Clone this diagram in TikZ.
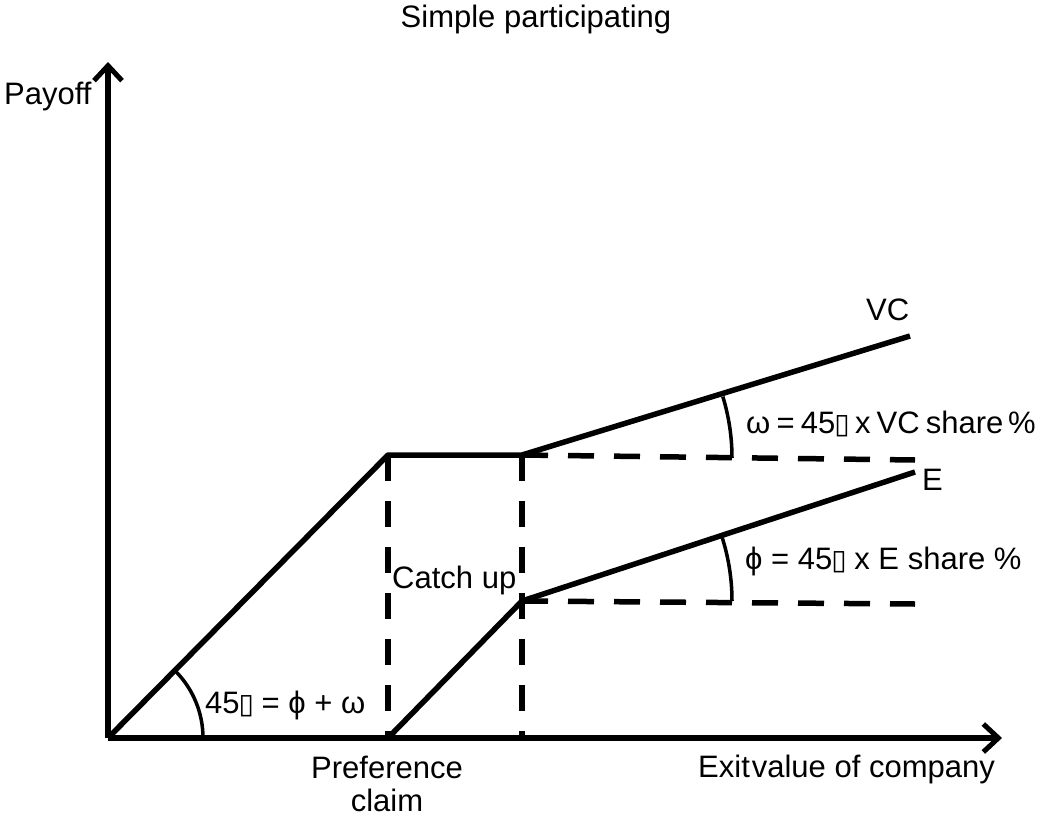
\documentclass[tikz,border=0pt]{standalone}
\usepackage{fontspec}
\setmainfont{Liberation Sans}
\newfontfamily\dvfont{DejaVu Sans}
\usetikzlibrary{arrows.meta}
\newcommand{\degbox}{{\dvfont\fontsize{28pt}{28pt}\selectfont\kern-1pt▯\kern-1pt}}
\begin{document}
\begin{tikzpicture}[x=1pt,y=-1pt,
  every node/.style={font=\fontsize{31pt}{33pt}\selectfont, inner sep=0pt},
  axis/.style={line width=5.5pt, -{Straight Barb[length=15pt,width=28pt,line width=5pt]}},
  curve/.style={line width=5.5pt},
  guide/.style={line width=5.5pt, dash pattern=on 26pt off 20pt},
  anglearc/.style={line width=3.5pt}]
\useasboundingbox (0,0) rectangle (1049,816);
\fill[white] (0,0) rectangle (1049,816);
% coordinates
\coordinate (O) at (108,738);
\coordinate (Ytip) at (108,62);
\coordinate (Xtip) at (1002,738);
\coordinate (K) at (388,455);
\coordinate (C) at (522,455);
\coordinate (VCend) at (910,336);
\coordinate (VCdash) at (915,460);
\coordinate (P) at (388,738);
\coordinate (Q) at (522,738);
\coordinate (D) at (522,601);
\coordinate (Eend) at (915,472);
\coordinate (Edash) at (915,604);
% axes
\draw[axis] (O) -- (Xtip);
\draw[axis] (O) -- (Ytip);
% guides
\draw[guide] (K) -- (P);
\draw[guide] (C) -- (Q);
\draw[guide] (C) -- (VCdash);
\draw[guide] (D) -- (Edash);
% VC payoff
\draw[curve, line join=round] (O) -- (K) -- (C) -- (VCend);
% E payoff
\draw[curve, line join=round] (P) -- (D) -- (Eend);
% angle arcs
\draw[anglearc] (203,738) arc[start angle=0, end angle=-45, radius=95];
\draw[anglearc] (732,458) arc[start angle=0, end angle=-17, radius=210];
\draw[anglearc] (732,601) arc[start angle=0, end angle=-18, radius=210];
% labels
\node (title) at (536,19) {Simple participating};
\node[anchor=west] (payoff) at (4,96) {Payoff};
\node[anchor=west] (vc) at (866,310) {VC};
\node[anchor=west] (e) at (922,480) {E};
\node[anchor=west] (omega) at (746,424) {\spaceskip=0.2em ω = 45\degbox{} x VC share\kern0.15em\%};
\node[anchor=west] (phi) at (745,561) {ϕ = 45\degbox{} x E share \%};
\node[anchor=west] (catch) at (392,580) {Catch up};
\node[anchor=west] (ang) at (205,705) {45\degbox{} = ϕ + ω};
\node[align=center] (pref) at (387,784) {Preference\\claim};
\node[anchor=west] (exit) at (698,769) {Exit\hspace{2pt}value of company};
\end{tikzpicture}
\end{document}
